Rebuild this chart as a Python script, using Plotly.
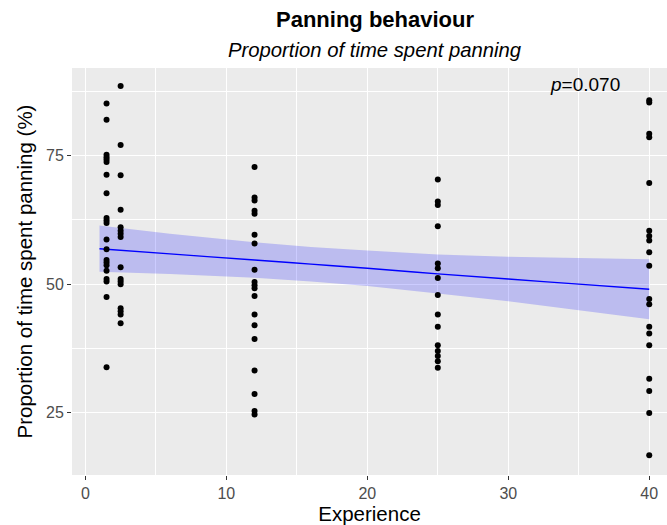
import plotly.graph_objects as go

# ---- data ----
exp_1_5 = [85.2, 82.0, 75.2, 74.7, 74.3, 73.8, 71.3, 67.7, 62.9, 62.4, 61.9, 58.7,
           56.8, 54.7, 54.2, 53.7, 52.6, 51.0, 50.5, 47.5, 33.8]
exp_2_5 = [88.6, 77.1, 71.2, 64.5, 61.1, 60.4, 59.8, 59.2, 53.3, 51.0, 50.5, 50.0,
           45.3, 44.7, 44.1, 42.4]
exp_12 = [72.8, 66.9, 66.3, 64.3, 63.7, 59.6, 57.9, 52.8, 50.4, 49.8, 49.2, 47.7,
          44.1, 42.0, 39.3, 33.2, 28.6, 25.3, 24.6]
exp_25 = [70.4, 66.1, 65.4, 61.3, 54.0, 53.1, 51.2, 47.9, 44.1, 41.7, 38.1, 37.0,
          36.0, 35.0, 33.7]
exp_40 = [85.8, 85.4, 79.3, 78.6, 69.7, 60.4, 59.4, 58.5, 56.2, 53.6, 47.1, 46.1,
          41.7, 40.4, 38.1, 31.6, 29.2, 24.9, 16.7]

groups = {1.5: exp_1_5, 2.5: exp_2_5, 12: exp_12, 25: exp_25, 40: exp_40}

fit_x = [1, 6, 12, 16, 20, 25, 30, 35, 40]
fit_y = [56.9, 55.9, 54.7, 53.9, 53.1, 52.0, 51.0, 50.0, 49.0]
fit_upper = [61.4, 59.8, 58.15, 57.26, 56.55, 55.8, 55.35, 55.05, 54.85]
fit_lower = [52.4, 52.0, 51.25, 50.54, 49.65, 48.2, 46.65, 44.95, 43.15]

x_ticks = [0, 10, 20, 30, 40]
y_ticks = [25, 50, 75]
p_label = "<i>p</i>=0.070"

title_text = "<b>Panning behaviour</b>"
subtitle_text = "<i>Proportion of time spent panning</i>"

# ---- build ----
px_, py_ = [], []
for k, vals in groups.items():
    px_ += [k] * len(vals)
    py_ += vals

FONT = "Liberation Sans, Arial, sans-serif"

fig = go.Figure()
fig.add_trace(go.Scatter(x=fit_x + fit_x[::-1], y=fit_upper + fit_lower[::-1],
                         fill="toself", fillcolor="rgba(0,0,255,0.2)",
                         line=dict(width=0), mode="lines", hoverinfo="skip"))
fig.add_trace(go.Scatter(x=fit_x, y=fit_y, mode="lines",
                         line=dict(color="#0000FF", width=1.4, shape="spline")))
fig.add_trace(go.Scatter(x=px_, y=py_, mode="markers",
                         marker=dict(color="black", size=6)))

fig.update_layout(
    width=667, height=525,
    margin=dict(l=72, r=0, t=68, b=50),
    paper_bgcolor="white", plot_bgcolor="#EBEBEB",
    showlegend=False,
    font=dict(family=FONT, color="black"),
    annotations=[
        dict(text=title_text, x=0.509, y=1.12, xref="paper", yref="paper",
             xanchor="center", yanchor="middle", showarrow=False,
             font=dict(size=22, color="black")),
        dict(text=subtitle_text, x=0.509, y=1.043, xref="paper", yref="paper",
             xanchor="center", yanchor="middle", showarrow=False,
             font=dict(size=20.3, color="black")),
        dict(text=p_label, x=32.8, y=88.9, xref="x", yref="y",
             xanchor="left", yanchor="middle", showarrow=False,
             font=dict(size=19, color="black")),
    ],
)
fig.update_xaxes(
    range=[-0.95, 41.26], tickvals=x_ticks, ticktext=[str(v) for v in x_ticks],
    showgrid=True, gridcolor="white", gridwidth=1.1, zeroline=False,
    ticks="outside", ticklen=4, tickcolor="#333333", tickwidth=1,
    tickfont=dict(size=16, color="#4D4D4D"),
    minor=dict(tickvals=[5, 15, 25, 35], showgrid=True, gridcolor="white", gridwidth=0.5, ticks=""),
    title=dict(text="Experience", font=dict(size=20.5, color="black"), standoff=5),
    showline=False,
)
fig.update_yaxes(
    range=[12.83, 92.1], tickvals=y_ticks, ticktext=[str(v) for v in y_ticks],
    showgrid=True, gridcolor="white", gridwidth=1.1, zeroline=False,
    ticks="outside", ticklen=4, tickcolor="#333333", tickwidth=1,
    tickfont=dict(size=16, color="#4D4D4D"),
    minor=dict(tickvals=[12.5, 37.5, 62.5, 87.5], showgrid=True, gridcolor="white", gridwidth=0.5, ticks=""),
    title=dict(text="Proportion of time spent panning (%)", font=dict(size=20.5, color="black"), standoff=7),
    showline=False,
)

fig.write_html("out.html", config={"displayModeBar": False},
               post_script="document.body.style.margin='0';document.body.style.overflow='hidden';")
